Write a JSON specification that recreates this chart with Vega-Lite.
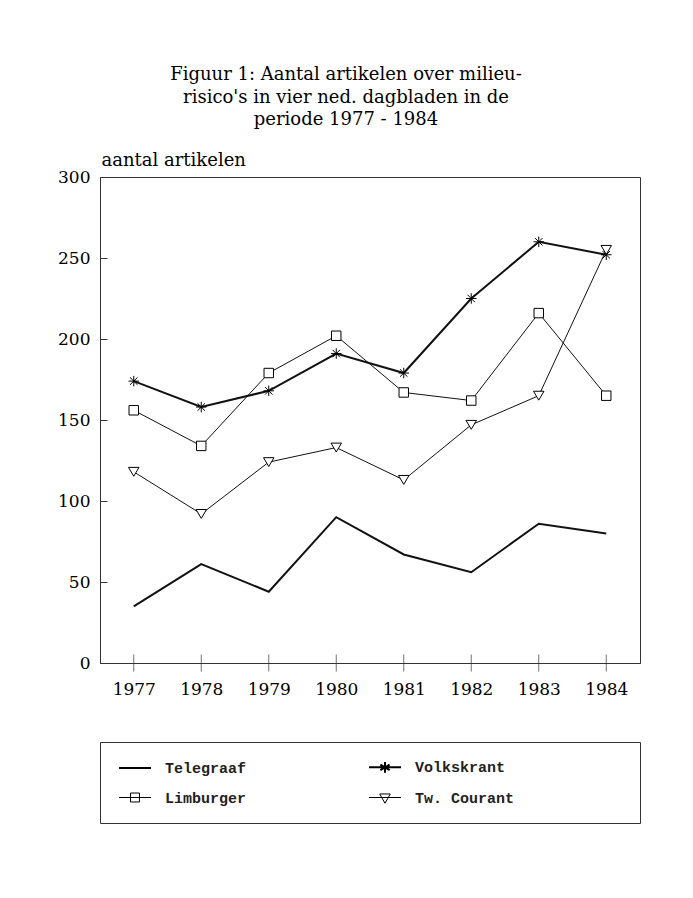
{
  "$schema": "https://vega.github.io/schema/vega-lite/v6.json",
  "background": "white",
  "padding": {"left": 57, "top": 65, "right": 10, "bottom": 10},
  "bounds": "flush",
  "spacing": 79,
  "config": {
    "view": {"stroke": "#333", "strokeWidth": 1},
    "font": "DejaVu Serif",
    "axis": {"grid": false, "domainColor": "#333", "labelColor": "black", "labelFont": "DejaVu Serif", "labelFontSize": 16, "tickColor": "#333"}
  },
  "datasets": {
    "artikelen": [
      {"jaar": 1977, "krant": "Telegraaf", "aantal": 35},
      {"jaar": 1978, "krant": "Telegraaf", "aantal": 61},
      {"jaar": 1979, "krant": "Telegraaf", "aantal": 44},
      {"jaar": 1980, "krant": "Telegraaf", "aantal": 90},
      {"jaar": 1981, "krant": "Telegraaf", "aantal": 67},
      {"jaar": 1982, "krant": "Telegraaf", "aantal": 56},
      {"jaar": 1983, "krant": "Telegraaf", "aantal": 86},
      {"jaar": 1984, "krant": "Telegraaf", "aantal": 80},
      {"jaar": 1977, "krant": "Volkskrant", "aantal": 174},
      {"jaar": 1978, "krant": "Volkskrant", "aantal": 158},
      {"jaar": 1979, "krant": "Volkskrant", "aantal": 168},
      {"jaar": 1980, "krant": "Volkskrant", "aantal": 191},
      {"jaar": 1981, "krant": "Volkskrant", "aantal": 179},
      {"jaar": 1982, "krant": "Volkskrant", "aantal": 225},
      {"jaar": 1983, "krant": "Volkskrant", "aantal": 260},
      {"jaar": 1984, "krant": "Volkskrant", "aantal": 252},
      {"jaar": 1977, "krant": "Limburger", "aantal": 156},
      {"jaar": 1978, "krant": "Limburger", "aantal": 134},
      {"jaar": 1979, "krant": "Limburger", "aantal": 179},
      {"jaar": 1980, "krant": "Limburger", "aantal": 202},
      {"jaar": 1981, "krant": "Limburger", "aantal": 167},
      {"jaar": 1982, "krant": "Limburger", "aantal": 162},
      {"jaar": 1983, "krant": "Limburger", "aantal": 216},
      {"jaar": 1984, "krant": "Limburger", "aantal": 165},
      {"jaar": 1977, "krant": "Tw. Courant", "aantal": 118},
      {"jaar": 1978, "krant": "Tw. Courant", "aantal": 92},
      {"jaar": 1979, "krant": "Tw. Courant", "aantal": 124},
      {"jaar": 1980, "krant": "Tw. Courant", "aantal": 133},
      {"jaar": 1981, "krant": "Tw. Courant", "aantal": 113},
      {"jaar": 1982, "krant": "Tw. Courant", "aantal": 147},
      {"jaar": 1983, "krant": "Tw. Courant", "aantal": 165},
      {"jaar": 1984, "krant": "Tw. Courant", "aantal": 255}
    ]
  },
  "resolve": {"scale": {"shape": "independent", "strokeWidth": "independent", "x": "independent", "y": "independent"}, "legend": {"shape": "independent", "strokeWidth": "independent"}},
  "vconcat": [
    {
      "width": 540,
      "height": 486,
      "title": {
        "text": ["Figuur 1: Aantal artikelen over milieu-", "risico's in vier ned. dagbladen in de", "periode 1977 - 1984"],
        "font": "DejaVu Serif", "fontSize": 18, "fontWeight": "normal", "color": "black",
        "anchor": "middle", "dx": -24, "lineHeight": 22.5, "offset": 22
      },
      "data": {"name": "artikelen"},
      "encoding": {
        "x": {
          "field": "jaar", "type": "quantitative",
          "scale": {"domain": [1976.5, 1984.5], "nice": false, "zero": false},
          "axis": {"values": [1977, 1978, 1979, 1980, 1981, 1982, 1983, 1984], "format": "d", "ticks": false, "labelPadding": 18, "labelFontSize": 17, "title": null}
        },
        "y": {
          "field": "aantal", "type": "quantitative",
          "scale": {"domain": [0, 300], "nice": false},
          "axis": {
            "values": [0, 50, 100, 150, 200, 250, 300], "tickSize": -7, "labelPadding": 17, "labelFontSize": 17,
            "title": "aantal artikelen", "titleAngle": 0, "titleAlign": "left", "titleBaseline": "alphabetic",
            "titleX": 1, "titleY": -12, "titleFont": "DejaVu Serif", "titleFontSize": 18, "titleFontWeight": "normal", "titleColor": "black"
          }
        }
      },
      "layer": [
        {
          "mark": {"type": "line", "color": "#111"},
          "encoding": {
            "detail": {"field": "krant", "type": "nominal"},
            "strokeWidth": {"condition": {"test": "datum.krant === 'Telegraaf' || datum.krant === 'Volkskrant'", "value": 2}, "value": 1}
          }
        },
        {
          "transform": [{"filter": "datum.krant !== 'Telegraaf'"}],
          "mark": {"type": "point", "filled": true, "fill": "white", "stroke": "black", "strokeWidth": 1, "opacity": 1, "size": 110},
          "encoding": {
            "shape": {
              "field": "krant", "type": "nominal",
              "scale": {
                "domain": ["Volkskrant", "Limburger", "Tw. Courant"],
                "range": ["M0,-1V1M-1,0H1M-0.71,-0.71L0.71,0.71M-0.71,0.71L0.71,-0.71", "M-0.9,-0.9H0.9V0.9H-0.9Z", "M-1,-0.85H1L0,0.85Z"]
              },
              "legend": null
            }
          }
        },
        {
          "transform": [{"filter": "datum.krant === 'Telegraaf'"}],
          "mark": {"type": "tick", "orient": "vertical", "size": 17, "thickness": 1, "color": "#333"},
          "encoding": {"y": {"datum": 0}}
        }
      ]
    },
    {
      "width": 540,
      "height": 81,
      "view": {"stroke": "#333", "strokeWidth": 1},
      "data": {"name": "artikelen"},
      "mark": {"type": "point", "opacity": 0, "color": "black", "filled": false},
      "encoding": {
        "x": {"datum": 0.5, "type": "quantitative", "scale": {"domain": [0, 1]}, "axis": null},
        "y": {"datum": 0.5, "type": "quantitative", "scale": {"domain": [0, 1]}, "axis": null},
        "strokeWidth": {
          "field": "krant", "type": "nominal",
          "scale": {"type": "ordinal", "domain": ["Telegraaf", "Limburger", "Volkskrant", "Tw. Courant"], "range": [2, 1, 2, 1]}
        },
        "shape": {
          "field": "krant", "type": "nominal",
          "scale": {
            "domain": ["Telegraaf", "Limburger", "Volkskrant", "Tw. Courant"],
            "range": [
              "M-1,0H1",
              "M-1,0H1M-0.28,-0.28H0.28V0.28H-0.28Z",
              "M-1,0H1M0,-0.33V0.33M-0.29,-0.17L0.29,0.17M-0.29,0.17L0.29,-0.17",
              "M-1,0H1M-0.33,-0.22H0.33L0,0.36Z"
            ]
          },
          "legend": {
            "orient": "none", "legendX": 18, "legendY": 8,
            "columns": 2, "columnPadding": 118, "rowPadding": 4, "gridAlign": "each",
            "title": null, "padding": 0,
            "symbolSize": 1024, "symbolStrokeColor": "black", "symbolFillColor": "transparent", "symbolOpacity": 1,
            "labelFont": "Liberation Mono", "labelFontSize": 15, "labelFontWeight": "bold", "labelColor": "#222", "labelOffset": 13,
            "encode": {
              "symbols": {
                "update": {
                  "stroke": {"value": "black"},
                  "fill": {"value": "transparent"},
                  "opacity": {"value": 1}
                }
              }
            }
          }
        }
      }
    }
  ]
}
